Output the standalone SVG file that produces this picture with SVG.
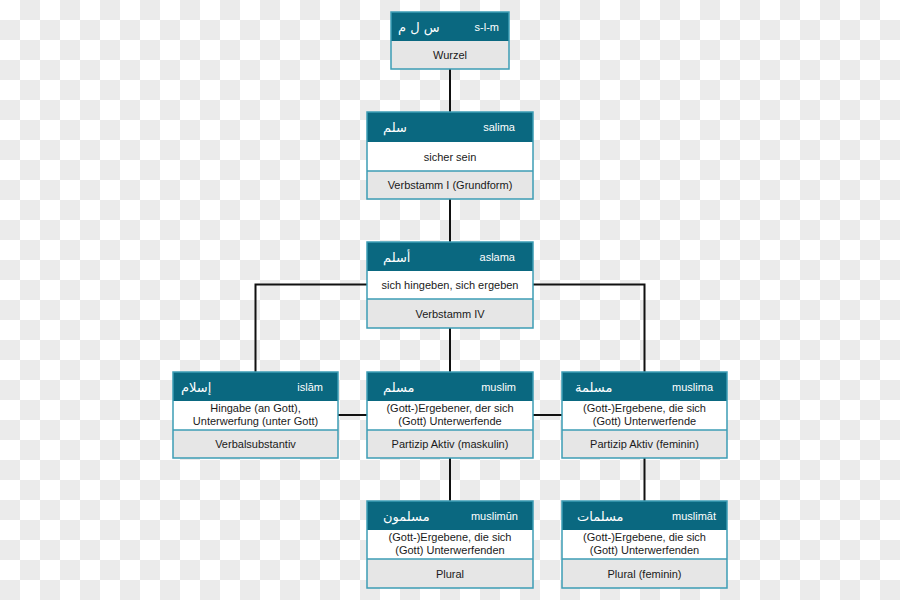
<svg xmlns="http://www.w3.org/2000/svg" width="900" height="600" viewBox="0 0 900 600">
<defs>
<pattern id="checker" x="0" y="0" width="40" height="40" patternUnits="userSpaceOnUse">
<rect width="40" height="40" fill="#ffffff"/>
<rect x="20" y="0" width="20" height="20" fill="#ebebeb"/>
<rect x="0" y="20" width="20" height="20" fill="#ebebeb"/>
</pattern>
</defs>
<style>
.hd{fill:#0a6880}
.wb{fill:#ffffff}
.gb{fill:#e6e6e6}
.bd{fill:none;stroke:#3d9db5;stroke-width:1.5}
.dv{stroke:#3d9db5;stroke-width:1.5}
.ar{font-family:"DejaVu Sans",sans-serif;font-size:13px;fill:#ffffff}
.tr{font-family:"Liberation Sans",Arial,sans-serif;font-size:11px;fill:#ffffff;text-anchor:end}
.tx{font-family:"Liberation Sans",Arial,sans-serif;font-size:11px;fill:#1a1a1a;text-anchor:middle}
.cn{fill:none;stroke:#111111;stroke-width:2}
</style>
<rect width="900" height="600" fill="url(#checker)"/>
<g id="connectors">
<line class="cn" x1="450" y1="69" x2="450" y2="112"/>
<line class="cn" x1="450" y1="199" x2="450" y2="242"/>
<line class="cn" x1="450" y1="328" x2="450" y2="372"/>
<polyline class="cn" points="367,284.5 255.5,284.5 255.5,372"/>
<polyline class="cn" points="533,284.5 644.5,284.5 644.5,372"/>
<line class="cn" x1="338" y1="415" x2="367" y2="415"/>
<line class="cn" x1="533" y1="415" x2="562" y2="415"/>
<line class="cn" x1="450" y1="458" x2="450" y2="501"/>
<line class="cn" x1="644.5" y1="458" x2="644.5" y2="501"/>
</g>
<g id="root">
<rect class="hd" x="391" y="12" width="118" height="29"/>
<rect class="gb" x="391" y="41" width="118" height="28"/>
<rect class="bd" x="391" y="12" width="118" height="57"/>
<text class="ar" x="398" y="32">س ل م</text>
<text class="tr" x="499" y="31">s-l-m</text>
<text class="tx" x="450" y="59">Wurzel</text>
</g>
<g id="salima">
<rect class="hd" x="367" y="112" width="166" height="30"/>
<rect class="wb" x="367" y="142" width="166" height="29"/>
<rect class="gb" x="367" y="171" width="166" height="28"/>
<line class="dv" x1="367" y1="171" x2="533" y2="171"/>
<rect class="bd" x="367" y="112" width="166" height="87"/>
<text class="ar" x="383" y="132">سلم</text>
<text class="tr" x="515" y="131">salima</text>
<text class="tx" x="450" y="161">sicher sein</text>
<text class="tx" x="450" y="189">Verbstamm I (Grundform)</text>
</g>
<g id="aslama">
<rect class="hd" x="367" y="242" width="166" height="29"/>
<rect class="wb" x="367" y="271" width="166" height="28"/>
<rect class="gb" x="367" y="299" width="166" height="29"/>
<line class="dv" x1="367" y1="299" x2="533" y2="299"/>
<rect class="bd" x="367" y="242" width="166" height="86"/>
<text class="ar" x="383" y="262">أسلم</text>
<text class="tr" x="515" y="261">aslama</text>
<text class="tx" x="450" y="289">sich hingeben, sich ergeben</text>
<text class="tx" x="450" y="318">Verbstamm IV</text>
</g>
<g id="islam">
<rect class="hd" x="173" y="372" width="165" height="29"/>
<rect class="wb" x="173" y="401" width="165" height="29"/>
<rect class="gb" x="173" y="430" width="165" height="28"/>
<line class="dv" x1="173" y1="430" x2="338" y2="430"/>
<rect class="bd" x="173" y="372" width="165" height="86"/>
<text class="ar" x="181" y="392">إسلام</text>
<text class="tr" x="323" y="391">islām</text>
<text class="tx" x="255.5" y="412">Hingabe (an Gott),</text>
<text class="tx" x="255.5" y="425">Unterwerfung (unter Gott)</text>
<text class="tx" x="255.5" y="448">Verbalsubstantiv</text>
</g>
<g id="muslim">
<rect class="hd" x="367" y="372" width="166" height="29"/>
<rect class="wb" x="367" y="401" width="166" height="29"/>
<rect class="gb" x="367" y="430" width="166" height="28"/>
<line class="dv" x1="367" y1="430" x2="533" y2="430"/>
<rect class="bd" x="367" y="372" width="166" height="86"/>
<text class="ar" x="383" y="392">مسلم</text>
<text class="tr" x="516" y="391">muslim</text>
<text class="tx" x="450" y="412">(Gott-)Ergebener, der sich</text>
<text class="tx" x="450" y="425">(Gott) Unterwerfende</text>
<text class="tx" x="450" y="448">Partizip Aktiv (maskulin)</text>
</g>
<g id="muslima">
<rect class="hd" x="562" y="372" width="165" height="29"/>
<rect class="wb" x="562" y="401" width="165" height="29"/>
<rect class="gb" x="562" y="430" width="165" height="28"/>
<line class="dv" x1="562" y1="430" x2="727" y2="430"/>
<rect class="bd" x="562" y="372" width="165" height="86"/>
<text class="ar" x="575" y="392">مسلمة</text>
<text class="tr" x="713" y="391">muslima</text>
<text class="tx" x="644.5" y="412">(Gott-)Ergebene, die sich</text>
<text class="tx" x="644.5" y="425">(Gott) Unterwerfende</text>
<text class="tx" x="644.5" y="448">Partizip Aktiv (feminin)</text>
</g>
<g id="muslimun">
<rect class="hd" x="367" y="501" width="166" height="29"/>
<rect class="wb" x="367" y="530" width="166" height="29"/>
<rect class="gb" x="367" y="559" width="166" height="29"/>
<line class="dv" x1="367" y1="559" x2="533" y2="559"/>
<rect class="bd" x="367" y="501" width="166" height="87"/>
<text class="ar" x="383" y="521">مسلمون</text>
<text class="tr" x="518" y="520">muslimūn</text>
<text class="tx" x="450" y="541">(Gott-)Ergebene, die sich</text>
<text class="tx" x="450" y="554">(Gott) Unterwerfenden</text>
<text class="tx" x="450" y="578">Plural</text>
</g>
<g id="muslimat">
<rect class="hd" x="562" y="501" width="165" height="29"/>
<rect class="wb" x="562" y="530" width="165" height="29"/>
<rect class="gb" x="562" y="559" width="165" height="29"/>
<line class="dv" x1="562" y1="559" x2="727" y2="559"/>
<rect class="bd" x="562" y="501" width="165" height="87"/>
<text class="ar" x="577" y="521">مسلمات</text>
<text class="tr" x="716" y="520">muslimāt</text>
<text class="tx" x="644.5" y="541">(Gott-)Ergebene, die sich</text>
<text class="tx" x="644.5" y="554">(Gott) Unterwerfenden</text>
<text class="tx" x="644.5" y="578">Plural (feminin)</text>
</g>
</svg>
